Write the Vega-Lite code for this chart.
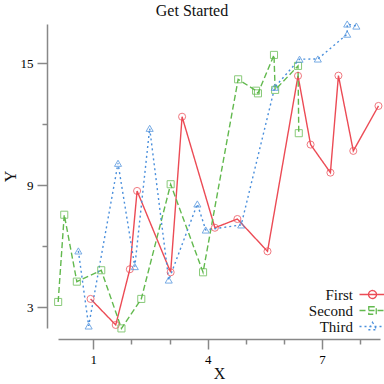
{
  "$schema": "https://vega.github.io/schema/vega-lite/v6.json",
  "width": 322,
  "height": 304,
  "autosize": {"type": "none"},
  "padding": {"left": 58, "top": 24, "right": 4, "bottom": 56},
  "background": "white",
  "title": {"text": "Get Started", "font": "Liberation Serif", "fontSize": 16, "fontWeight": "normal", "color": "#111", "anchor": "middle", "dx": -27, "offset": 8, "dy": 8},
  "data": {
    "values": [
      {"s": "First", "i": 1, "x": 0.93, "y": 3.41},
      {"s": "First", "i": 2, "x": 1.59, "y": 2.13},
      {"s": "First", "i": 3, "x": 1.96, "y": 4.87},
      {"s": "First", "i": 4, "x": 2.15, "y": 8.72},
      {"s": "First", "i": 5, "x": 3.03, "y": 4.72},
      {"s": "First", "i": 6, "x": 3.33, "y": 12.37},
      {"s": "First", "i": 7, "x": 4.19, "y": 6.91},
      {"s": "First", "i": 8, "x": 4.78, "y": 7.34},
      {"s": "First", "i": 9, "x": 5.57, "y": 5.75},
      {"s": "First", "i": 10, "x": 6.37, "y": 14.38},
      {"s": "First", "i": 11, "x": 6.70, "y": 11.0},
      {"s": "First", "i": 12, "x": 7.22, "y": 9.62},
      {"s": "First", "i": 13, "x": 7.43, "y": 14.39},
      {"s": "First", "i": 14, "x": 7.82, "y": 10.69},
      {"s": "First", "i": 15, "x": 8.48, "y": 12.9},
      {"s": "Second", "i": 1, "x": 0.08, "y": 3.26},
      {"s": "Second", "i": 2, "x": 0.24, "y": 7.55},
      {"s": "Second", "i": 3, "x": 0.57, "y": 4.26},
      {"s": "Second", "i": 4, "x": 1.21, "y": 4.82},
      {"s": "Second", "i": 5, "x": 1.74, "y": 1.96},
      {"s": "Second", "i": 6, "x": 2.26, "y": 3.41},
      {"s": "Second", "i": 7, "x": 3.03, "y": 9.05},
      {"s": "Second", "i": 8, "x": 3.88, "y": 4.72},
      {"s": "Second", "i": 9, "x": 4.80, "y": 14.21},
      {"s": "Second", "i": 10, "x": 5.27, "y": 13.65},
      {"s": "Second", "i": 11, "x": 5.32, "y": 13.52},
      {"s": "Second", "i": 12, "x": 5.74, "y": 15.41},
      {"s": "Second", "i": 13, "x": 5.77, "y": 13.69},
      {"s": "Second", "i": 14, "x": 6.37, "y": 14.87},
      {"s": "Second", "i": 15, "x": 6.39, "y": 11.56},
      {"s": "Third", "i": 1, "x": 0.61, "y": 5.77},
      {"s": "Third", "i": 2, "x": 0.88, "y": 2.08},
      {"s": "Third", "i": 3, "x": 1.65, "y": 10.08},
      {"s": "Third", "i": 4, "x": 2.09, "y": 5.0},
      {"s": "Third", "i": 5, "x": 2.48, "y": 11.8},
      {"s": "Third", "i": 6, "x": 2.98, "y": 4.34},
      {"s": "Third", "i": 7, "x": 3.73, "y": 8.08},
      {"s": "Third", "i": 8, "x": 3.95, "y": 6.8},
      {"s": "Third", "i": 9, "x": 4.88, "y": 7.05},
      {"s": "Third", "i": 10, "x": 5.76, "y": 13.82},
      {"s": "Third", "i": 11, "x": 6.41, "y": 15.2},
      {"s": "Third", "i": 12, "x": 6.89, "y": 15.21},
      {"s": "Third", "i": 13, "x": 7.66, "y": 16.43},
      {"s": "Third", "i": 14, "x": 7.66, "y": 16.93},
      {"s": "Third", "i": 15, "x": 7.90, "y": 16.83}
    ]
  },
  "encoding": {
    "x": {
      "field": "x", "type": "quantitative",
      "scale": {"domain": [0.076, 8.52], "nice": false, "zero": false},
      "axis": {
        "title": "X",
        "values": [1, 2, 3, 4, 5, 6, 7, 8],
        "labelExpr": "(datum.value - 1) % 3 == 0 ? datum.label : ''",
        "tickSize": {"condition": {"test": "(datum.value - 1) % 3 == 0", "value": 10}, "value": 5},
        "labelPadding": 4,
        "titlePadding": -1
      }
    },
    "y": {
      "field": "y", "type": "quantitative",
      "scale": {"domain": [1.98, 16.93], "nice": false, "zero": false},
      "axis": {
        "title": "Y",
        "values": [3, 6, 9, 12, 15],
        "labelExpr": "datum.value % 6 == 3 ? datum.label : ''",
        "tickSize": {"condition": {"test": "datum.value % 6 == 3", "value": 10}, "value": 5},
        "labelPadding": 4,
        "titlePadding": 2
      }
    }
  },
  "layer": [
    {
      "mark": {"type": "line", "strokeWidth": 1.4},
      "encoding": {
        "order": {"field": "i", "type": "quantitative"},
        "color": {
          "field": "s", "type": "nominal",
          "scale": {"domain": ["First", "Second", "Third"], "range": ["#ec4b55", "#62b94e", "#4a8fdc"]},
          "legend": {
            "orient": "none",
            "legendX": 307,
            "legendY": 263,
            "title": null,
            "labelFont": "Liberation Serif",
            "labelFontSize": 15,
            "labelColor": "#111",
            "labelAlign": "right",
            "labelOffset": -27,
            "symbolSize": 100,
            "symbolStrokeWidth": 1.3,
            "rowPadding": 0,
            "encode": {
              "symbols": {
                "update": {
                  "shape": {"signal": "datum.value == 'First' ? 'M-2.6,0H2.6M0.8,0A0.8,0.8,0,1,1,-0.8,0A0.8,0.8,0,1,1,0.8,0' : datum.value == 'Second' ? 'M-2.6,0H2.6M-0.75,-0.75H0.75V0.75H-0.75Z' : 'M-2.6,0H2.6M0,-0.85L0.85,0.65H-0.85Z'"},
                  "strokeDash": {"signal": "datum.value == 'First' ? [1,0] : datum.value == 'Second' ? [6,3] : [2,3]"},
                  "fill": {"value": "transparent"}
                }
              }
            }
          }
        },
        "strokeDash": {
          "field": "s", "type": "nominal",
          "scale": {"domain": ["First", "Second", "Third"], "range": [[1, 0], [6, 3], [2, 3]]},
          "legend": null
        }
      }
    },
    {
      "transform": [{"filter": "datum.s == 'First'"}],
      "mark": {"type": "point", "shape": "circle", "color": "#ec4b55", "filled": false, "size": 50, "strokeWidth": 1, "opacity": 0.75}
    },
    {
      "transform": [{"filter": "datum.s == 'Second'"}],
      "mark": {"type": "point", "shape": "square", "color": "#62b94e", "filled": false, "size": 50, "strokeWidth": 1, "opacity": 0.75}
    },
    {
      "transform": [{"filter": "datum.s == 'Third'"}],
      "mark": {"type": "point", "shape": "triangle-up", "color": "#4a8fdc", "filled": false, "size": 50, "strokeWidth": 1, "opacity": 0.75}
    }
  ],
  "config": {
    "font": "Liberation Serif",
    "view": {"stroke": null},
    "axis": {
      "grid": false,
      "offset": 11,
      "domainColor": "#888",
      "domainWidth": 1.5,
      "tickColor": "#888",
      "tickWidth": 1.5,
      "labelFont": "Liberation Serif",
      "labelFontSize": 13,
      "labelColor": "#000",
      "titleFont": "Liberation Serif",
      "titleFontSize": 16,
      "titleFontWeight": "normal",
      "titleColor": "#111"
    }
  }
}
